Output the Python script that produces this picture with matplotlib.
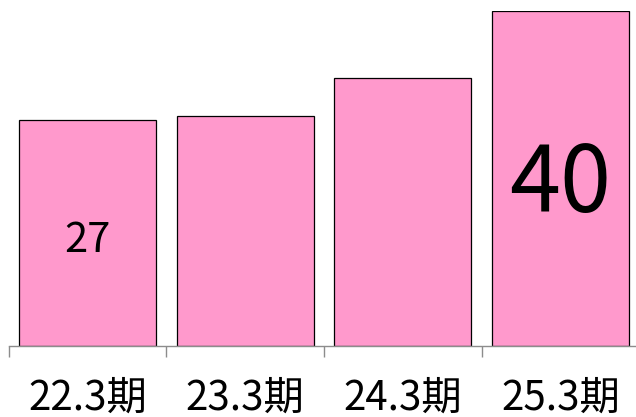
import matplotlib.pyplot as plt
import matplotlib.transforms as mtransforms
import numpy as np

plt.rcParams['font.family'] = ['Noto Sans CJK JP', 'DejaVu Sans']

periods = ["22.3期", "23.3期", "24.3期", "25.3期"]
values = [27, 27.5, 32, 40]
shown = {0: ("27", 30), 3: ("40", 66)}  # index -> (text, fontsize)

fig = plt.figure(figsize=(6.36, 4.17), dpi=100)
ax = fig.add_axes([8.7 / 636, 71 / 417, 630.6 / 636, 335 / 417])

x = np.arange(len(periods))
ax.bar(x, values, width=0.87, color="#FF99CC", edgecolor="black", linewidth=0.9)

ax.set_xlim(-0.5, 3.5)
ax.set_ylim(0, 40)

for s in ["top", "right", "left"]:
    ax.spines[s].set_visible(False)
ax.spines["bottom"].set_color("#8c8c8c")
ax.spines["bottom"].set_linewidth(1.0)
ax.set_yticks([])
ax.set_xticks(np.arange(-0.5, 4.0, 1.0))
ax.set_xticklabels([])
ax.tick_params(axis="x", direction="out", length=8, width=1.0, color="#8c8c8c")

trans = mtransforms.blended_transform_factory(ax.transData, fig.transFigure)
for i, p in enumerate(periods):
    ax.text(i, 19 / 417, p, transform=trans, ha="center", va="center",
            fontsize=29, color="black", clip_on=False)

# labels sit at about the middle of the bar
for i, (txt, fs) in shown.items():
    ax.text(i, values[i] / 2 - 0.9, txt, ha="center", va="center",
            fontsize=fs, color="black")

fig.savefig("out.png", dpi=100)
